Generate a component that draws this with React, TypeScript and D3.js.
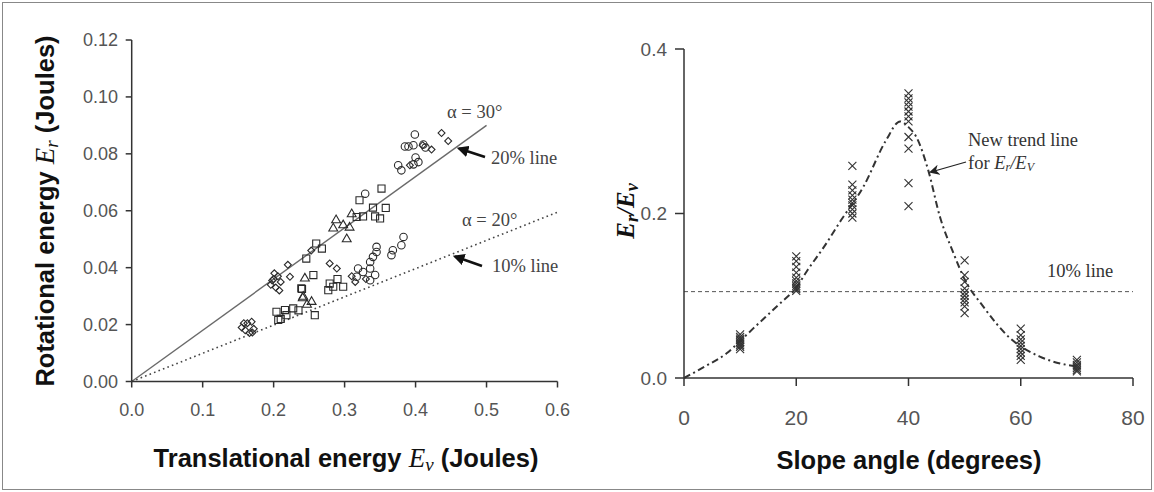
import React from "react";
import * as d3 from "d3";

const W = 1154;
const H = 492;

// ---- left panel: rotational vs translational energy ----
const diamonds: [number, number][] = [
  [0.155, 0.019], [0.16, 0.018], [0.163, 0.0205], [0.166, 0.017], [0.169, 0.021], [0.172, 0.0185],
  [0.158, 0.0205], [0.17, 0.0172], [0.196, 0.034], [0.2, 0.036], [0.203, 0.033], [0.206, 0.037],
  [0.21, 0.035], [0.201, 0.038], [0.208, 0.032], [0.198, 0.0355], [0.22, 0.041], [0.223, 0.0368],
  [0.279, 0.0415], [0.289, 0.0397], [0.315, 0.035], [0.31, 0.037], [0.33, 0.036], [0.253, 0.046],
  [0.41, 0.083], [0.4225, 0.0815], [0.4366, 0.0873], [0.446, 0.0845], [0.392, 0.076],
];
const circles: [number, number][] = [
  [0.399, 0.0868], [0.385, 0.0826], [0.39, 0.0826], [0.397, 0.083], [0.411, 0.0833], [0.414, 0.0822],
  [0.3755, 0.076], [0.38, 0.0742], [0.397, 0.0763], [0.404, 0.0771], [0.4, 0.0787], [0.329, 0.066],
  [0.383, 0.0508], [0.38, 0.0479], [0.368, 0.0461], [0.366, 0.0444], [0.345, 0.0473], [0.345, 0.0455],
  [0.34, 0.0438], [0.336, 0.042], [0.336, 0.0397], [0.343, 0.0374], [0.326, 0.0385], [0.319, 0.0397],
  [0.317, 0.0368], [0.336, 0.0356],
];
const squares: [number, number][] = [
  [0.321, 0.0637], [0.352, 0.0678], [0.34, 0.0611], [0.358, 0.061], [0.343, 0.058], [0.35, 0.0573],
  [0.317, 0.0578], [0.326, 0.058], [0.26, 0.0485], [0.268, 0.0467], [0.246, 0.0432], [0.256, 0.0374],
  [0.239, 0.0327], [0.279, 0.0344], [0.284, 0.0333], [0.298, 0.0333], [0.277, 0.0321], [0.29, 0.036],
  [0.204, 0.0245], [0.2065, 0.0216], [0.216, 0.0251], [0.218, 0.0233], [0.2276, 0.0257], [0.258, 0.0233],
  [0.24, 0.0325], [0.21, 0.022], [0.235, 0.025],
];
const triangles: [number, number][] = [
  [0.31, 0.0588], [0.288, 0.0567], [0.284, 0.0538], [0.298, 0.0549], [0.307, 0.0541], [0.303, 0.05],
  [0.2417, 0.0298], [0.2535, 0.028], [0.244, 0.0362], [0.241, 0.0293], [0.247, 0.027],
];
const line30: [number, number][] = [[0, 0], [0.5, 0.09]];
const line20: [number, number][] = [[0, 0], [0.6, 0.0595]];
const evTicks = [0, 0.1, 0.2, 0.3, 0.4, 0.5, 0.6];
const erTicks = [0, 0.02, 0.04, 0.06, 0.08, 0.1, 0.12];

// ---- right panel: Er/Ev vs slope angle ----
const slopeAngles = [10, 20, 30, 40, 50, 60, 70];
const ratioSamples = [
  [0.035, 0.038, 0.04, 0.042, 0.044, 0.046, 0.048, 0.05, 0.053],
  [0.106, 0.108, 0.11, 0.112, 0.115, 0.118, 0.122, 0.128, 0.135, 0.142, 0.148],
  [0.195, 0.2, 0.205, 0.21, 0.213, 0.217, 0.222, 0.228, 0.235, 0.258],
  [0.209, 0.237, 0.279, 0.293, 0.312, 0.318, 0.324, 0.33, 0.335, 0.34, 0.346],
  [0.079, 0.087, 0.092, 0.096, 0.1, 0.104, 0.109, 0.117, 0.125, 0.143],
  [0.022, 0.027, 0.031, 0.035, 0.039, 0.043, 0.047, 0.052, 0.06],
  [0.008, 0.01, 0.012, 0.014, 0.016, 0.019, 0.022],
];
const trendAngle = [0, 4, 7.6, 10, 12.3, 17, 20, 22, 25, 28, 32, 36, 38.5, 40, 41.4, 43.5, 45.6, 48, 50, 53.3, 58, 63.4, 68.2, 70.5];
const trendRatio = [0, 0.015, 0.03, 0.045, 0.06, 0.09, 0.11, 0.131, 0.16, 0.192, 0.233, 0.289, 0.312, 0.305, 0.293, 0.253, 0.196, 0.152, 0.12, 0.087, 0.049, 0.026, 0.016, 0.014];
const tenPercent = 0.105;
const angleTicks = [0, 20, 40, 60, 80];
const ratioTicks = [0, 0.2, 0.4];

const sans = "'Liberation Sans', Arial, sans-serif";
const serif = "'Liberation Serif', 'Times New Roman', serif";
const ink = "#333";

export default function App() {
  const xL = d3.scaleLinear().domain([0, 0.6]).range([131.7, 557.5]);
  const yL = d3.scaleLinear().domain([0, 0.12]).range([381.5, 40]);
  const xR = d3.scaleLinear().domain([0, 80]).range([684, 1133]);
  const yR = d3.scaleLinear().domain([0, 0.4]).range([378, 49]);

  const pathL = d3.line<[number, number]>().x((d) => xL(d[0])).y((d) => yL(d[1]));
  const trend = d3
    .line<number>()
    .x((d) => xR(d))
    .y((_, i) => yR(trendRatio[i]))
    .curve(d3.curveMonotoneX);

  const sym = (type: d3.SymbolType, size: number) => d3.symbol().type(type).size(size)() as string;
  const circleD = sym(d3.symbolCircle, 44);
  const squareD = sym(d3.symbolSquare, 50);
  const diamondD = sym(d3.symbolSquare, 24);
  const triangleD = sym(d3.symbolTriangle, 34);
  const cross = "M-4,-4L4,4M-4,4L4,-4";

  const markers = (pts: [number, number][], d: string, rot = 0) =>
    pts.map((p, i) => (
      <path
        key={i}
        d={d}
        transform={`translate(${xL(p[0])},${yL(p[1])})${rot ? ` rotate(${rot})` : ""}`}
        fill="none"
        stroke="#2a2a2a"
        strokeWidth={1.1}
      />
    ));

  return (
    <div style={{ position: "absolute", left: 0, top: 0 }}>
      <svg width={W} height={H} viewBox={`0 0 ${W} ${H}`} style={{ display: "block", background: "#fff" }}>
        <defs>
          <marker id="headBig" viewBox="0 0 10 10" refX="8" refY="5" markerWidth="4.5" markerHeight="4.5" orient="auto">
            <path d="M0,0L10,5L0,10z" fill="#111" />
          </marker>
          <marker id="headSmall" viewBox="0 0 10 10" refX="8" refY="5" markerWidth="8" markerHeight="8" orient="auto">
            <path d="M0,0L10,5L0,10L3,5z" fill="#222" />
          </marker>
        </defs>
        <rect x={2.5} y={2.5} width={W - 5} height={H - 5} fill="none" stroke="#888" strokeWidth={1} />

        {/* left panel */}
        <path d={pathL(line30) as string} stroke="#6a6a6a" strokeWidth={1.4} fill="none" />
        <path d={pathL(line20) as string} stroke="#444" strokeWidth={1.6} strokeDasharray="1.6 3.2" fill="none" />
        {markers(squares, squareD)}
        {markers(triangles, triangleD)}
        {markers(circles, circleD)}
        {markers(diamonds, diamondD, 45)}

        <line x1={xL(0)} x2={xL(0.6)} y1={yL(0)} y2={yL(0)} stroke={ink} strokeWidth={1.5} />
        <line x1={xL(0)} x2={xL(0)} y1={yL(0)} y2={yL(0.12)} stroke={ink} strokeWidth={1.5} />
        {evTicks.map((t) => (
          <g key={t}>
            <line x1={xL(t)} x2={xL(t)} y1={yL(0)} y2={yL(0) + 6} stroke={ink} strokeWidth={1.5} />
            <text x={xL(t)} y={416} textAnchor="middle" fontFamily={sans} fontSize={18} fill="#555">
              {t.toFixed(1)}
            </text>
          </g>
        ))}
        {erTicks.map((t) => (
          <g key={t}>
            <line x1={xL(0) - 6} x2={xL(0)} y1={yL(t)} y2={yL(t)} stroke={ink} strokeWidth={1.5} />
            <text x={118} y={yL(t)} dy="0.35em" textAnchor="end" fontFamily={sans} fontSize={18} fill="#555">
              {t.toFixed(2)}
            </text>
          </g>
        ))}
        <text x={346} y={467} textAnchor="middle" fontFamily={sans} fontSize={25.5} fontWeight="bold" fill="#111">
          Translational energy{" "}
          <tspan fontFamily={serif} fontStyle="italic" fontWeight="normal" fontSize={27}>E</tspan>
          <tspan fontFamily={serif} fontStyle="italic" fontWeight="normal" fontSize={19} dy={4}>v</tspan>
          <tspan dy={-4}> (Joules)</tspan>
        </text>
        <text
          transform="translate(54,211) rotate(-90)"
          textAnchor="middle"
          fontFamily={sans}
          fontSize={25.5}
          fontWeight="bold"
          fill="#111"
        >
          Rotational energy{" "}
          <tspan fontFamily={serif} fontStyle="italic" fontWeight="normal" fontSize={27}>E</tspan>
          <tspan fontFamily={serif} fontStyle="italic" fontWeight="normal" fontSize={19} dy={4}>r</tspan>
          <tspan dy={-4}> (Joules)</tspan>
        </text>

        <text x={447} y={118} fontFamily={serif} fontSize={18.5} fill="#444">α = 30°</text>
        <text x={491} y={164} fontFamily={serif} fontSize={18.5} fill="#444">20% line</text>
        <line x1={485} y1={157} x2={459} y2={148.5} stroke="#111" strokeWidth={2.6} markerEnd="url(#headBig)" />
        <text x={462} y={226} fontFamily={serif} fontSize={18.5} fill="#444">α = 20°</text>
        <text x={492} y={272} fontFamily={serif} fontSize={18.5} fill="#444">10% line</text>
        <line x1={482} y1={266} x2={455} y2={256.5} stroke="#111" strokeWidth={2.6} markerEnd="url(#headBig)" />

        {/* right panel */}
        <line x1={xR(0)} x2={xR(80)} y1={yR(tenPercent)} y2={yR(tenPercent)} stroke="#555" strokeWidth={1} strokeDasharray="4 3" />
        <path d={trend(trendAngle) as string} fill="none" stroke="#333" strokeWidth={2} strokeDasharray="7 3.5 2 3.5" />
        {slopeAngles.map((a, i) =>
          ratioSamples[i].map((r, j) => (
            <path key={`${a}-${j}`} d={cross} transform={`translate(${xR(a)},${yR(r)})`} stroke="#333" strokeWidth={1.1} fill="none" />
          ))
        )}
        <line x1={xR(0)} x2={xR(80)} y1={yR(0)} y2={yR(0)} stroke={ink} strokeWidth={1.5} />
        <line x1={xR(0)} x2={xR(0)} y1={yR(0)} y2={yR(0.4)} stroke={ink} strokeWidth={1.5} />
        {angleTicks.map((t) => (
          <g key={t}>
            <line x1={xR(t)} x2={xR(t)} y1={yR(0)} y2={yR(0) + 8} stroke={ink} strokeWidth={1.5} />
            <text x={xR(t)} y={425} textAnchor="middle" fontFamily={sans} fontSize={21} fill="#555">
              {t}
            </text>
          </g>
        ))}
        {ratioTicks.map((t) => (
          <g key={t}>
            <line x1={xR(0) - 9} x2={xR(0)} y1={yR(t)} y2={yR(t)} stroke={ink} strokeWidth={1.5} />
            <text x={667} y={yR(t)} dy="0.35em" textAnchor="end" fontFamily={sans} fontSize={19} fill="#555">
              {t.toFixed(1)}
            </text>
          </g>
        ))}
        <text x={909} y={469} textAnchor="middle" fontFamily={sans} fontSize={25.5} fontWeight="bold" fill="#111">
          Slope angle (degrees)
        </text>
        <text
          transform="translate(634,211) rotate(-90)"
          textAnchor="middle"
          fontFamily={serif}
          fontStyle="italic"
          fontWeight="bold"
          fontSize={25}
          fill="#111"
        >
          E<tspan fontSize={18} dy={4}>r</tspan>
          <tspan dy={-4}>/E</tspan>
          <tspan fontSize={18} dy={4}>v</tspan>
        </text>

        <text x={968} y={146} fontFamily={serif} fontSize={18.5} fill="#333">New trend line</text>
        <text x={968} y={169} fontFamily={serif} fontSize={18.5} fill="#333">
          for <tspan fontStyle="italic">E</tspan>
          <tspan fontStyle="italic" fontSize={12} dy={2}>r</tspan>
          <tspan fontStyle="italic" dy={-2}>/E</tspan>
          <tspan fontStyle="italic" fontSize={12} dy={2}>V</tspan>
        </text>
        <line x1={966} y1={162} x2={931} y2={172} stroke="#222" strokeWidth={1.3} markerEnd="url(#headSmall)" />
        <text x={1047} y={277} fontFamily={serif} fontSize={18.5} fill="#333">10% line</text>
      </svg>
    </div>
  );
}
